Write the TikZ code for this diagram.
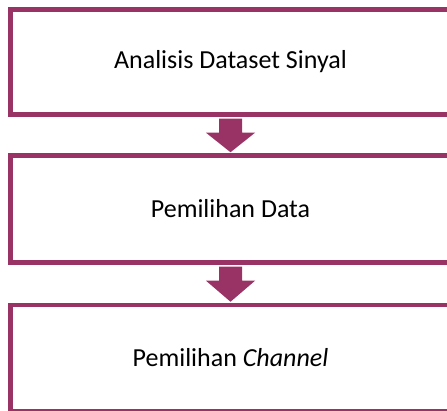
\documentclass[tikz,border=0pt]{standalone}
\usepackage{fontspec}
\setmainfont{Carlito}
\definecolor{berry}{RGB}{153,51,102}
\begin{document}
\begin{tikzpicture}[x=1pt,y=-1pt,
  stepbox/.style={draw=berry,line width=4.5pt,fill=white,minimum width=440pt,inner sep=0pt,font=\fontsize{26}{30}\selectfont},
  blockarrow/.style={fill=berry,draw=none}]
\useasboundingbox (0,0) rectangle (447,411);
\clip (0,0) rectangle (447,411);
\node[stepbox,minimum height=105pt] (b1) at (230.5,62) {Analisis Dataset Sinyal};
\node[stepbox,minimum height=107pt] (b2) at (230.5,209) {Pemilihan Data};
\node[stepbox,minimum height=106pt] (b3) at (230.5,358) {Pemilihan \textit{Channel}};
% arrows
\fill[blockarrow] ([xshift=-11.5pt,yshift=-2pt]b1.south) -- ([xshift=11.5pt,yshift=-2pt]b1.south)
  -- ([xshift=11.5pt,yshift=-16pt]b1.south) -- ([xshift=24.5pt,yshift=-16pt]b1.south)
  -- ([yshift=1pt]b2.north) -- ([xshift=-24.5pt,yshift=-16pt]b1.south)
  -- ([xshift=-11.5pt,yshift=-16pt]b1.south) -- cycle;
\fill[blockarrow] ([xshift=-11.5pt,yshift=-2pt]b2.south) -- ([xshift=11.5pt,yshift=-2pt]b2.south)
  -- ([xshift=11.5pt,yshift=-16pt]b2.south) -- ([xshift=24.5pt,yshift=-16pt]b2.south)
  -- ([yshift=1pt]b3.north) -- ([xshift=-24.5pt,yshift=-16pt]b2.south)
  -- ([xshift=-11.5pt,yshift=-16pt]b2.south) -- cycle;
\end{tikzpicture}
\end{document}
